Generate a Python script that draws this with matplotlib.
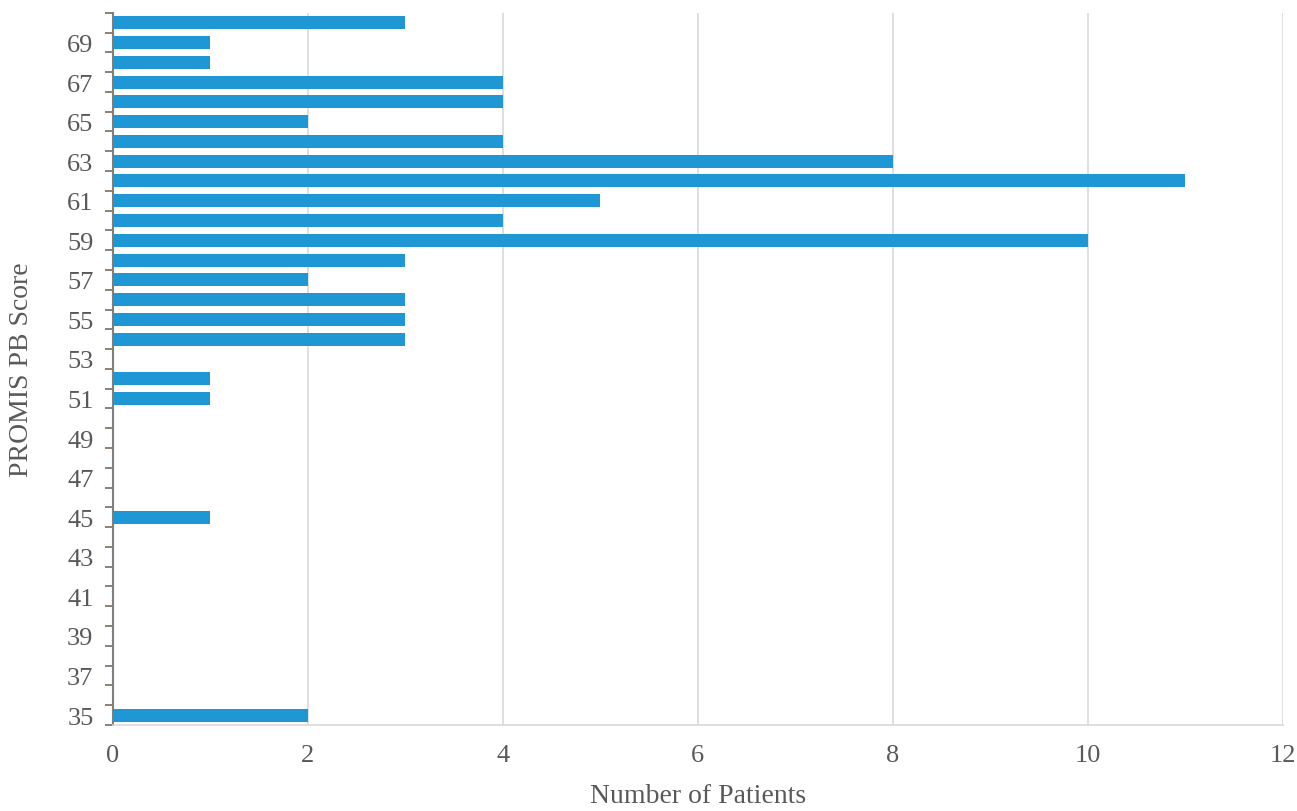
import numpy as np
import matplotlib.pyplot as plt

plt.rcParams['font.family'] = ['Liberation Serif', 'DejaVu Serif']

scores = list(range(35, 71))
patients = [2, 0, 0, 0, 0, 0, 0, 0, 0, 0,   # 35-44
            1, 0, 0, 0, 0, 0,               # 45-50
            1, 1, 0, 3, 3, 3, 2, 3, 10, 4,  # 51-60
            5, 11, 8, 4, 2, 4, 4, 1, 1, 3]  # 61-70
tick_labels = [str(s) for s in range(35, 71, 2)]

grey = '#595959'
fig = plt.figure(figsize=(12.97, 8.12), dpi=100)
ax = fig.add_axes([0.0871, 0.106, 0.902, 0.877])

ax.barh(scores, patients, height=0.66, color='#1f97d4', zorder=3)

ax.set_xlim(0, 12)
ax.set_ylim(34.5, 70.5)
ax.set_xticks(range(0, 13, 2))
ax.set_yticks(range(35, 71, 2))
ax.set_yticklabels(tick_labels)
ax.set_yticks(np.arange(34.5, 71, 1), minor=True)

ax.tick_params(axis='x', length=0, pad=14, labelsize=19, labelcolor=grey)
ax.tick_params(axis='y', which='major', length=0, pad=14, labelsize=19, labelcolor=grey)
ax.tick_params(axis='y', which='minor', length=6, width=1.2, color='#7a6a5a', direction='out')

ax.grid(axis='x', color='#d9d9d9', linewidth=1.2, zorder=0)
for s in ['top', 'right']:
    ax.spines[s].set_visible(False)
ax.spines['bottom'].set_color('#d9d9d9')
ax.spines['bottom'].set_linewidth(1.2)
ax.spines['left'].set_color('#7f7f7f')
ax.spines['left'].set_linewidth(1.5)

ax.set_xlabel('Number of Patients', fontsize=20, color=grey, labelpad=12)
ax.set_ylabel('PROMIS PB Score', fontsize=20, color=grey, labelpad=24)

fig.savefig('out.png', dpi=100)
